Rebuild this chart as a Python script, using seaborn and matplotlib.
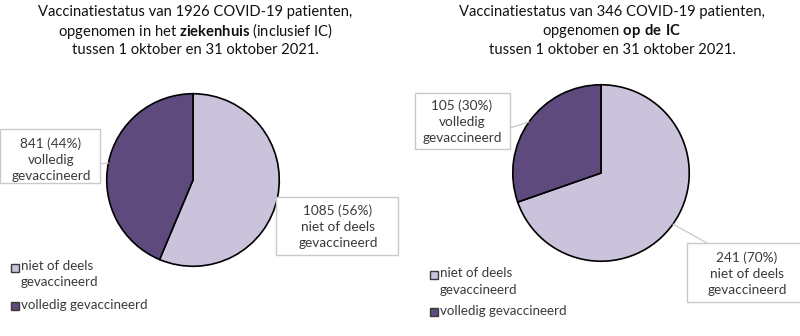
import numpy as np
import matplotlib
matplotlib.use("Agg")
import matplotlib.pyplot as plt
from matplotlib.patches import Rectangle
import seaborn as sns

# --- data -------------------------------------------------------------
categories = ["niet of deels gevaccineerd", "volledig gevaccineerd"]
legend_labels = ["niet of deels\ngevaccineerd", "volledig gevaccineerd"]
label_texts = ["niet of deels\ngevaccineerd", "volledig\ngevaccineerd"]

hospital_counts = [1085, 841]
hospital_pct = [56, 44]
icu_counts = [241, 105]
icu_pct = [70, 30]

hospital_title = [
    "Vaccinatiestatus van 1926 COVID-19 patienten,",
    r"opgenomen in het $\mathbf{ziekenhuis}$ (inclusief IC)",
    "tussen 1 oktober en 31 oktober 2021.",
]
icu_title = [
    "Vaccinatiestatus van 346 COVID-19 patienten,",
    r"opgenomen $\mathbf{op\ de\ IC}$",
    "tussen 1 oktober en 31 oktober 2021.",
]

# --- style ------------------------------------------------------------
sns.set_theme(style="white")
plt.rcParams["font.family"] = ["Lato", "DejaVu Sans"]
plt.rcParams["mathtext.fontset"] = "custom"
plt.rcParams["mathtext.rm"] = "Lato"
plt.rcParams["mathtext.bf"] = "Lato:bold"

palette = sns.color_palette(["#CBC2DC", "#5E4A7C"])
TITLE_COLOR = "#111111"
TEXT_COLOR = "#3a3a3a"
BOX_EDGE = "#c9c9c9"

W, H = 800, 336
fig = plt.figure(figsize=(W / 100, H / 100), dpi=100)
fig.patch.set_facecolor("white")

# overlay in pixel coordinates (origin top-left)
ov = fig.add_axes([0, 0, 1, 1], zorder=5)
ov.set_xlim(0, W)
ov.set_ylim(H, 0)
ov.axis("off")
ov.patch.set_alpha(0)


def pie_axes(cx, cy, r):
    return fig.add_axes([(cx - r) / W, (H - cy - r) / H, 2 * r / W, 2 * r / H], zorder=1)


def draw_pie(ax, counts):
    wedges, _ = ax.pie(counts, colors=palette, startangle=90, counterclock=False,
                       radius=1.0,
                       wedgeprops=dict(edgecolor="black", linewidth=1.2))
    ax.set_xlim(-1.02, 1.02)
    ax.set_ylim(-1.02, 1.02)
    ax.axis("off")
    return wedges


def wedge_anchor(ax, wedge):
    mid = np.deg2rad((wedge.theta1 + wedge.theta2) / 2)
    disp = ax.transData.transform((np.cos(mid), np.sin(mid)))
    return ov.transData.inverted().transform(disp)


def callout(box, text_xy, text, attach=None, anchor=None):
    x0, y0, x1, y1 = box
    if attach is not None and anchor is not None:
        ov.plot([attach[0], anchor[0]], [attach[1], anchor[1]],
                color=BOX_EDGE, lw=0.9, zorder=1)
    ov.add_patch(Rectangle((x0, y0), x1 - x0, y1 - y0, facecolor="white",
                           edgecolor=BOX_EDGE, lw=1.0, zorder=2))
    ov.text(text_xy[0], text_xy[1], text, ha="center", va="center",
            fontsize=9.8, color=TEXT_COLOR, linespacing=1.4, zorder=3)


def draw_title(lines, cx):
    for line, y in zip(lines, [12, 31, 50]):
        ov.text(cx, y, line, ha="center", va="center", fontsize=10.6,
                color=TITLE_COLOR)


def draw_legend(x, ys_square, ys_text):
    for i, lab in enumerate(legend_labels):
        ov.add_patch(Rectangle((x, ys_square[i] - 4), 8, 8, facecolor=palette[i],
                               edgecolor="#3a3a3a", lw=1.0))
        ov.text(x + 10, ys_text[i], lab, ha="left", va="top", fontsize=9.6,
                color=TEXT_COLOR, linespacing=1.45)


# --- left: hospital ------------------------------------------------------
ax_l = pie_axes(193, 180, 88)
w_l = draw_pie(ax_l, hospital_counts)
draw_title(hospital_title, 195)
callout((276, 197, 398, 255), (338, 227),
        f"{hospital_counts[0]} ({hospital_pct[0]}%)\n{label_texts[0]}")
callout((0, 129, 100, 183), (51, 160),
        f"{hospital_counts[1]} ({hospital_pct[1]}%)\n{label_texts[1]}",
        attach=(100, 164), anchor=wedge_anchor(ax_l, w_l[1]))
draw_legend(11, [268, 306], [260, 299])

# --- right: ICU ----------------------------------------------------------
ax_r = pie_axes(601, 173, 90)
w_r = draw_pie(ax_r, icu_counts)
draw_title(icu_title, 612)
callout((687, 243, 801, 302), (747, 274),
        f"{icu_counts[0]} ({icu_pct[0]}%)\n{label_texts[0]}",
        attach=(707, 243), anchor=wedge_anchor(ax_r, w_r[0]))
callout((415, 93, 510, 149), (462, 122),
        f"{icu_counts[1]} ({icu_pct[1]}%)\n{label_texts[1]}",
        attach=(510, 128), anchor=wedge_anchor(ax_r, w_r[1]))
draw_legend(430, [275, 312], [267, 305])

fig.savefig("out.png", dpi=100, facecolor="white")
